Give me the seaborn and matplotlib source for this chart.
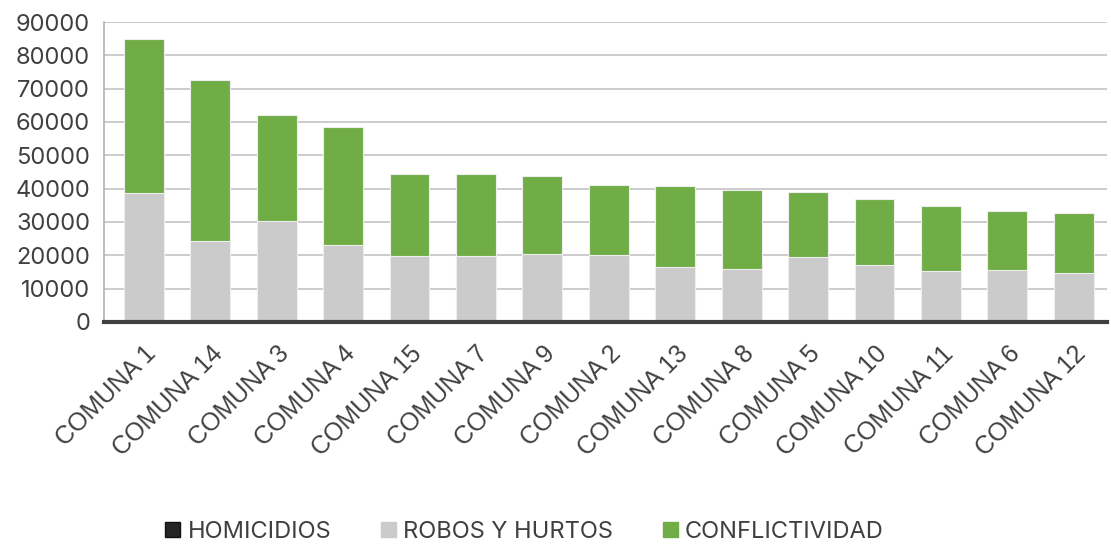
import matplotlib
matplotlib.use('Agg')
import matplotlib.pyplot as plt
import numpy as np
import seaborn as sns
from matplotlib.patches import Patch

comunas = ['COMUNA 1', 'COMUNA 14', 'COMUNA 3', 'COMUNA 4', 'COMUNA 15',
           'COMUNA 7', 'COMUNA 9', 'COMUNA 2', 'COMUNA 13', 'COMUNA 8',
           'COMUNA 5', 'COMUNA 10', 'COMUNA 11', 'COMUNA 6', 'COMUNA 12']
homicidios = [300, 260, 180, 170, 290, 210, 130, 90, 280, 150, 80, 110, 190, 170, 180]
robos_hurtos = [38300, 24140, 30220, 23030, 19610, 19490, 20270, 20110, 16320, 15750,
                19520, 16990, 15210, 15530, 14520]
conflictividad = [46300, 48100, 31600, 35300, 24400, 24600, 23400, 20800, 24100, 23800,
                  19300, 19900, 19500, 17600, 18000]

c_hom = '#262626'
c_rob = '#CBCBCB'
c_con = '#70AD47'
txt = '#404040'


def stacked_bars(ax):
    hom = np.array(homicidios)
    rob = hom + np.array(robos_hurtos)
    tot = rob + np.array(conflictividad)
    # tallest layer first so the lower segments sit on top of it
    for vals, col in [(tot, c_con), (rob, c_rob), (hom, c_hom)]:
        sns.barplot(x=comunas, y=vals, color=col, width=0.6, ax=ax,
                    edgecolor='#eeeeee', linewidth=0.8, saturation=1)


if __name__ == '__main__':
    sns.set_style('white')
    plt.rcParams['font.family'] = ['Inter', 'DejaVu Sans']

    fig = plt.figure(figsize=(11.11, 5.46), dpi=100)
    ax = fig.add_axes([0.0936, 0.4103, 0.9028, 0.5494])
    stacked_bars(ax)

    ax.set_ylim(0, 90000)
    ax.set_xlim(-0.6, len(comunas) - 0.5)
    ax.set_yticks(np.arange(0, 90001, 10000))
    ax.yaxis.grid(True, color='#c4c4c4', linewidth=1.2)
    ax.set_axisbelow(True)
    for s in ['top', 'right']:
        ax.spines[s].set_visible(False)
    ax.spines['left'].set_color('#b0b0b0')
    ax.spines['left'].set_linewidth(1.2)
    ax.spines['bottom'].set_color('#404040')
    ax.spines['bottom'].set_linewidth(3)
    ax.tick_params(axis='y', length=0, labelsize=17, labelcolor=txt, pad=10)
    ax.tick_params(axis='x', length=0, labelcolor=txt, pad=14)
    ax.set_xticks(range(len(comunas)))
    ax.set_xticklabels(comunas, rotation=45, ha='right', rotation_mode='anchor',
                       fontsize=18, family=['Liberation Sans', 'DejaVu Sans'])
    ax.set_xlabel('')
    ax.set_ylabel('')

    handles = [Patch(facecolor=c_hom, edgecolor='#111111', label='HOMICIDIOS'),
               Patch(facecolor=c_rob, edgecolor=c_rob, label='ROBOS Y HURTOS'),
               Patch(facecolor=c_con, edgecolor=c_con, label='CONFLICTIVIDAD')]
    fig.legend(handles=handles, loc='center', bbox_to_anchor=(0.472, 0.026), ncol=3,
               frameon=False, fontsize=17, labelcolor=txt, handlelength=0.65,
               handleheight=0.65, handletextpad=0.3, columnspacing=2.1)

    plt.savefig('out.png', dpi=100)
